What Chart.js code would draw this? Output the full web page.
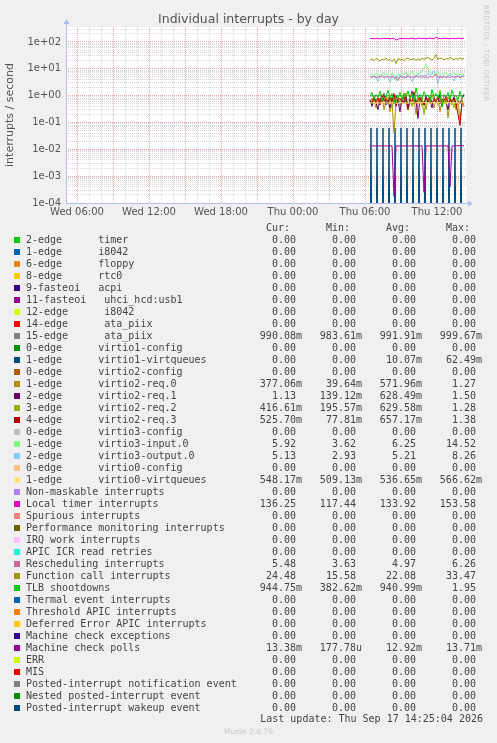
<!DOCTYPE html>
<html>
<head>
<meta charset="utf-8">
<title>Individual interrupts - by day</title>
<script src="https://cdn.jsdelivr.net/npm/chart.js@4"></script>
<style>
  html, body { margin: 0; padding: 0; background: #f0f0f0; width: 497px; height: 743px; overflow: hidden; }
  body { position: relative; font-family: "DejaVu Sans", sans-serif; }
  #chart { position: absolute; left: 0; top: 0; }
  #title { position: absolute; left: 0; width: 497px; top: 12px; line-height: 14px; text-align: center; font-size: 12.5px; color: #555; }
  #rrd { position: absolute; left: 482px; top: 5px; writing-mode: vertical-rl; font-size: 7px; color: #c8c8c8; letter-spacing: 0.3px; }
  .row { position: absolute; left: 0; width: 497px; height: 12px; line-height: 12px; font-family: "DejaVu Sans Mono", monospace; font-size: 10px; color: #444; white-space: pre; }
  .sw { position: absolute; left: 14px; top: 3px; width: 6px; height: 6px; }
  .lbl { position: absolute; left: 26px; }
  .num { position: absolute; width: 70px; text-align: right; }
  .c0 { left: 232px; } .c1 { left: 292px; } .c2 { left: 352px; } .c3 { left: 412px; }
  .h0 { left: 220px; } .h1 { left: 280px; } .h2 { left: 340px; } .h3 { left: 400px; }
  #update { position: absolute; right: 14px; top: 713px; line-height: 12px; font-family: "DejaVu Sans Mono", monospace; font-size: 10px; color: #444; white-space: pre; }
  #munin { position: absolute; left: 0; width: 497px; top: 727px; text-align: center; font-size: 7.5px; color: #c8c8c8; }
</style>
</head>
<body>
<canvas id="chart" width="497" height="230"></canvas>
<div id="title">Individual interrupts - by day</div>
<div id="rrd">RRDTOOL / TOBI OETIKER</div>
<div id="legend"></div>
<div id="update">Last update: Thu Sep 17 14:25:04 2026</div>
<div id="munin">Munin 2.0.76</div>
<script>
// hours counted from Wed 00:00
const viewStart = 5 + 5 / 60;     // Wed 05:05
const viewEnd = 38 + 25 / 60;     // Thu 14:25
const firstSample = 30 + 25 / 60; // Thu 06:25
const lastSample = 38 + 15 / 60;  // Thu 14:15

const xTickHours = [6, 12, 18, 24, 30, 36];
const xTickLabels = ['Wed 06:00', 'Wed 12:00', 'Wed 18:00', 'Thu 00:00', 'Thu 06:00', 'Thu 12:00'];
const yDecades = [-4, -3, -2, -1, 0, 1, 2];
const yTickLabels = ['1e-04', '1e-03', '1e-02', '1e-01', '1e+00', '1e+01', '1e+02'];

const rowNames = [
  '2-edge      timer',
  '1-edge      i8042',
  '6-edge      floppy',
  '8-edge      rtc0',
  '9-fasteoi   acpi',
  '11-fasteoi   uhci_hcd:usb1',
  '12-edge      i8042',
  '14-edge      ata_piix',
  '15-edge      ata_piix',
  '0-edge      virtio1-config',
  '1-edge      virtio1-virtqueues',
  '0-edge      virtio2-config',
  '1-edge      virtio2-req.0',
  '2-edge      virtio2-req.1',
  '3-edge      virtio2-req.2',
  '4-edge      virtio2-req.3',
  '0-edge      virtio3-config',
  '1-edge      virtio3-input.0',
  '2-edge      virtio3-output.0',
  '0-edge      virtio0-config',
  '1-edge      virtio0-virtqueues',
  'Non-maskable interrupts',
  'Local timer interrupts',
  'Spurious interrupts',
  'Performance monitoring interrupts',
  'IRQ work interrupts',
  'APIC ICR read retries',
  'Rescheduling interrupts',
  'Function call interrupts',
  'TLB shootdowns',
  'Thermal event interrupts',
  'Threshold APIC interrupts',
  'Deferred Error APIC interrupts',
  'Machine check exceptions',
  'Machine check polls',
  'ERR',
  'MIS',
  'Posted-interrupt notification event',
  'Nested posted-interrupt event',
  'Posted-interrupt wakeup event'
];

const colors = [
  '#00CC00', '#0066B3', '#FF8000', '#FFCC00', '#330099', '#990099', '#CCFF00', '#FF0000',
  '#808080', '#008F00', '#00487D', '#B35A00', '#B38F00', '#6B006B', '#8FB300', '#B30000',
  '#BEBEBE', '#80FF80', '#80C9FF', '#FFC080', '#FFE680', '#AA80FF', '#EE00CC', '#FF8080',
  '#666600', '#FFBFFF', '#00FFCC', '#CC6699', '#999900', '#00CC00', '#0066B3', '#FF8000',
  '#FFCC00', '#330099', '#990099', '#CCFF00', '#FF0000', '#808080', '#008F00', '#00487D'
];

const curText = ['0.00', '0.00', '0.00', '0.00', '0.00', '0.00', '0.00', '0.00', '990.08m', '0.00',
  '0.00', '0.00', '377.06m', '1.13', '416.61m', '525.70m', '0.00', '5.92', '5.13', '0.00',
  '548.17m', '0.00', '136.25', '0.00', '0.00', '0.00', '0.00', '5.48', '24.48', '944.75m',
  '0.00', '0.00', '0.00', '0.00', '13.38m', '0.00', '0.00', '0.00', '0.00', '0.00'];
const minText = ['0.00', '0.00', '0.00', '0.00', '0.00', '0.00', '0.00', '0.00', '983.61m', '0.00',
  '0.00', '0.00', '39.64m', '139.12m', '195.57m', '77.81m', '0.00', '3.62', '2.93', '0.00',
  '509.13m', '0.00', '117.44', '0.00', '0.00', '0.00', '0.00', '3.63', '15.58', '382.62m',
  '0.00', '0.00', '0.00', '0.00', '177.78u', '0.00', '0.00', '0.00', '0.00', '0.00'];
const avgText = ['0.00', '0.00', '0.00', '0.00', '0.00', '0.00', '0.00', '0.00', '991.91m', '0.00',
  '10.07m', '0.00', '571.96m', '628.49m', '629.58m', '657.17m', '0.00', '6.25', '5.21', '0.00',
  '536.65m', '0.00', '133.92', '0.00', '0.00', '0.00', '0.00', '4.97', '22.08', '940.99m',
  '0.00', '0.00', '0.00', '0.00', '12.92m', '0.00', '0.00', '0.00', '0.00', '0.00'];
const maxText = ['0.00', '0.00', '0.00', '0.00', '0.00', '0.00', '0.00', '0.00', '999.67m', '0.00',
  '62.49m', '0.00', '1.27', '1.50', '1.28', '1.38', '0.00', '14.52', '8.26', '0.00',
  '566.62m', '0.00', '153.58', '0.00', '0.00', '0.00', '0.00', '6.26', '33.47', '1.95',
  '0.00', '0.00', '0.00', '0.00', '13.71m', '0.00', '0.00', '0.00', '0.00', '0.00'];

// samples every 10 minutes, Thu 06:25 .. 14:15
const localTimer = [132.4, 135.1, 130.8, 134.2, 136.5, 128.9, 133.7, 137.2, 131.5, 135.8, 129.6, 134.3,
  138.1, 117.4, 126.8, 133.2, 136.4, 131.1, 135.6, 130.2, 134.8, 137.5, 133.1, 129.4,
  135.3, 138.6, 132.2, 136.1, 131.7, 134.5, 139.2, 133.6, 130.5, 153.6, 136.2, 134.1,
  131.3, 137.4, 133.8, 135.2, 130.9, 136.7, 134.4, 132.1, 138.3, 133.5, 135.7, 136.25];
const functionCall = [21.2, 23.4, 20.1, 24.3, 22.5, 19.2, 23.1, 21.4, 25.2, 20.3, 22.6, 18.4,
  23.5, 15.6, 24.1, 21.3, 22.8, 20.2, 23.6, 25.1, 21.5, 22.3, 24.4, 20.6,
  23.2, 21.1, 25.3, 22.4, 24.6, 26.2, 23.3, 21.2, 24.5, 33.5, 22.1, 25.4,
  23.6, 21.3, 24.2, 22.7, 26.1, 23.4, 21.5, 24.3, 22.2, 25.6, 23.1, 24.48];
const rescheduling = [5.0, 4.8, 5.3, 4.6, 5.1, 4.9, 5.4, 4.4, 5.0, 5.2, 4.7, 5.5,
  4.3, 5.0, 3.6, 5.2, 4.8, 5.1, 4.6, 5.3, 4.9, 5.0, 4.5, 5.4,
  4.8, 5.1, 5.6, 4.7, 5.0, 4.4, 5.2, 4.9, 5.3, 6.3, 4.8, 5.0,
  4.6, 5.2, 4.9, 5.1, 4.7, 5.3, 5.0, 4.8, 5.2, 4.6, 5.1, 5.48];
const virtio3Input = [5.8, 6.4, 5.5, 6.9, 6.0, 5.2, 6.6, 7.4, 5.9, 6.3, 5.6, 7.0,
  6.1, 3.6, 6.5, 5.8, 6.8, 6.2, 7.6, 5.7, 6.4, 8.2, 6.0, 5.5,
  7.1, 6.3, 8.8, 10.5, 14.5, 9.2, 7.3, 6.7, 5.9, 6.6, 7.8, 5.8,
  6.9, 6.2, 7.5, 5.6, 6.8, 6.1, 7.2, 5.9, 6.6, 6.0, 6.4, 5.92];
const virtio3Output = [5.3, 4.9, 5.6, 5.0, 3.4, 5.4, 5.1, 5.7, 4.8, 5.2, 3.1, 5.5,
  5.0, 5.3, 4.6, 5.8, 5.1, 4.2, 5.4, 5.6, 4.9, 3.3, 5.2, 5.5,
  6.2, 5.0, 4.4, 5.9, 5.3, 7.1, 5.6, 6.8, 8.3, 5.4, 2.9, 5.7,
  5.1, 5.5, 4.5, 5.3, 5.8, 5.0, 3.5, 5.4, 5.6, 5.1, 5.2, 5.13];
const ata15 = [0.990, 0.991, 0.992, 0.988, 0.990, 0.994, 0.991, 0.986, 0.990, 0.992, 0.993, 0.990,
  0.984, 0.991, 0.996, 0.990, 0.992, 0.988, 0.992, 0.991, 0.990, 0.994, 0.993, 0.990,
  0.988, 0.991, 1.000, 0.990, 0.992, 0.993, 0.986, 0.991, 0.990, 0.994, 0.992, 0.990,
  0.992, 0.988, 0.991, 0.990, 0.996, 0.992, 0.990, 0.993, 0.988, 0.992, 0.991, 0.990];
const virtio0Queues = [0.54, 0.53, 0.55, 0.52, 0.54, 0.53, 0.54, 0.56, 0.53, 0.54, 0.52, 0.55,
  0.54, 0.53, 0.51, 0.54, 0.55, 0.53, 0.54, 0.52, 0.54, 0.56, 0.53, 0.54,
  0.55, 0.53, 0.54, 0.567, 0.53, 0.54, 0.52, 0.55, 0.54, 0.53, 0.54, 0.55,
  0.52, 0.54, 0.53, 0.56, 0.54, 0.53, 0.55, 0.52, 0.54, 0.53, 0.54, 0.548];
const tlbShootdowns = [0.95, 1.3, 0.72, 1.1, 0.88, 1.45, 0.66, 1.05, 0.9, 1.6, 0.8, 1.2,
  0.55, 1.0, 0.85, 1.35, 0.7, 1.15, 0.92, 1.5, 0.78, 1.25, 0.6, 1.95,
  0.86, 1.1, 0.74, 1.4, 0.95, 1.05, 0.68, 1.7, 0.9, 1.2, 0.82, 1.55,
  0.38, 1.1, 0.88, 1.3, 0.75, 1.6, 0.93, 1.0, 0.7, 1.45, 0.85, 0.945];
const req0 = [0.6, 0.45, 0.8, 0.35, 0.7, 0.5, 1.1, 0.3, 0.65, 0.9, 0.25, 0.55,
  0.04, 0.6, 0.85, 0.4, 0.7, 0.5, 1.27, 0.3, 0.6, 0.45, 0.75, 0.2,
  0.55, 0.9, 0.4, 0.65, 0.3, 0.8, 0.5, 0.6, 0.35, 0.7, 0.95, 0.25,
  0.6, 0.5, 0.8, 0.15, 0.65, 0.45, 0.7, 0.3, 0.6, 0.12, 0.55, 0.377];
const req1 = [0.7, 0.4, 0.9, 0.55, 0.3, 0.8, 0.6, 1.2, 0.45, 0.7, 0.35, 0.85,
  0.5, 1.0, 0.6, 0.25, 0.75, 0.55, 0.9, 0.4, 0.65, 1.5, 0.5, 0.7,
  0.14, 0.8, 0.6, 0.45, 0.95, 0.55, 0.7, 0.35, 0.85, 0.6, 0.5, 1.1,
  0.4, 0.7, 0.6, 0.3, 0.8, 0.55, 0.9, 0.45, 0.65, 0.5, 0.8, 1.13];
const req2 = [0.6, 0.8, 0.5, 0.7, 0.9, 0.45, 0.75, 0.6, 1.0, 0.5, 0.7, 0.35,
  0.8, 0.6, 0.9, 0.55, 0.7, 1.28, 0.5, 0.65, 0.8, 0.4, 0.7, 0.6,
  0.9, 0.5, 0.75, 0.2, 0.65, 0.8, 0.55, 1.1, 0.6, 0.7, 0.45, 0.85,
  0.6, 0.75, 0.5, 0.9, 0.6, 0.7, 0.35, 0.8, 0.55, 0.65, 0.7, 0.417];
const req3 = [0.7, 0.55, 0.9, 0.6, 0.8, 0.45, 1.0, 0.65, 0.75, 0.5, 0.85, 0.6,
  1.2, 0.4, 0.7, 0.8, 0.55, 0.9, 0.65, 0.3, 0.75, 0.6, 1.38, 0.5,
  0.7, 0.85, 0.6, 0.45, 0.8, 0.65, 0.9, 0.55, 0.7, 0.6, 0.85, 0.5,
  0.75, 0.65, 0.9, 0.55, 0.7, 0.6, 0.8, 0.5, 0.2, 0.078, 0.6, 0.526];
const mcPolls = [0.0134, 0.0135, 0.0134, 0.0133, 0.0134, 0.0135, 0.0134, 0.0134, 0.0133, 0.0134, 0.0135, 0.0134,
  0.000178, 0.0134, 0.0133, 0.0134, 0.0135, 0.0134, 0.0134, 0.0133, 0.0134, 0.0135, 0.0134, 0.0134,
  0.0133, 0.0134, 0.0135, 0.00025, 0.0134, 0.0134, 0.0133, 0.0134, 0.0135, 0.0134, 0.0134, 0.0133,
  0.0134, 0.0135, 0.0134, 0.0134, 0.0004, 0.0133, 0.0134, 0.0134, 0.0137, 0.0137, 0.0136, 0.01338];
// samples every 5 minutes, Thu 06:25 .. 14:15 (bursts every half hour)
const virtio1Queues = [0,
  0.0625, 0, 0, 0, 0, 0, 0.0625, 0, 0, 0, 0, 0, 0.0625, 0, 0, 0, 0, 0,
  0.0625, 0, 0, 0, 0, 0, 0.0625, 0, 0, 0, 0, 0, 0.0625, 0, 0, 0, 0, 0,
  0.0625, 0, 0, 0, 0, 0, 0.0625, 0, 0, 0, 0, 0, 0.0625, 0, 0, 0, 0, 0,
  0.0625, 0, 0, 0, 0, 0, 0.0625, 0, 0, 0, 0, 0, 0.0625, 0, 0, 0, 0, 0,
  0.0625, 0, 0, 0, 0, 0, 0.0625, 0, 0, 0, 0, 0, 0.0625, 0, 0, 0, 0, 0,
  0.0625, 0, 0, 0];
// rows with nothing but 0.00 in the legend: a flat zero from first to last sample
const idle = [0, 0];

const seriesByRow = {
  8: ata15, 10: virtio1Queues, 12: req0, 13: req1, 14: req2, 15: req3,
  17: virtio3Input, 18: virtio3Output, 20: virtio0Queues, 22: localTimer,
  27: rescheduling, 28: functionCall, 29: tlbShootdowns, 34: mcPolls
};

// a log axis cannot show 0: put it far below the floor so the line drops out of the plot, as rrdtool does
const belowFloor = 1e-6;

const datasets = rowNames.map((name, i) => {
  const vals = seriesByRow[i] || idle;
  const step = (lastSample - firstSample) / (vals.length - 1);
  return {
    label: name,
    data: vals.map((v, k) => ({ x: firstSample + k * step, y: v > 0 ? v : belowFloor })),
    borderColor: colors[i],
    backgroundColor: colors[i],
    borderWidth: 1,
    pointRadius: 0,
    tension: 0,
    order: -i // rrdtool paints later rows on top
  };
});

const hourTicks = [];
for (let h = Math.ceil(viewStart); h <= viewEnd; h++) hourTicks.push(h);
const logTicks = [];
yDecades.forEach(d => { for (let m = 1; m < 10; m++) logTicks.push(m * Math.pow(10, d)); });

const isDecade = v => Math.abs(Math.log10(v) - Math.round(Math.log10(v))) < 1e-9;
const majorGrid = '#f2a3a3';
const minorGrid = '#d9d9d9';
const axisBlue = '#b4bcf0';

const plotBackground = {
  id: 'plotBackground',
  beforeDraw(chart) {
    const { ctx, chartArea: a } = chart;
    ctx.save();
    ctx.fillStyle = '#ffffff';
    ctx.fillRect(a.left, a.top, a.right - a.left, a.bottom - a.top);
    ctx.restore();
  }
};

const axisArrows = {
  id: 'axisArrows',
  afterDraw(chart) {
    const { ctx, chartArea: a } = chart;
    ctx.save();
    ctx.strokeStyle = axisBlue;
    ctx.fillStyle = axisBlue;
    ctx.lineWidth = 1;
    ctx.beginPath();
    ctx.moveTo(a.left + 0.5, a.bottom + 0.5);
    ctx.lineTo(a.left + 0.5, a.top - 4);
    ctx.moveTo(a.left, a.bottom + 0.5);
    ctx.lineTo(a.right + 3, a.bottom + 0.5);
    ctx.stroke();
    ctx.beginPath();
    ctx.moveTo(a.left - 2.5, a.top - 3);
    ctx.lineTo(a.left + 3.5, a.top - 3);
    ctx.lineTo(a.left + 0.5, a.top - 8);
    ctx.closePath();
    ctx.fill();
    ctx.beginPath();
    ctx.moveTo(a.right + 2, a.bottom - 2.5);
    ctx.lineTo(a.right + 2, a.bottom + 3.5);
    ctx.lineTo(a.right + 7, a.bottom + 0.5);
    ctx.closePath();
    ctx.fill();
    ctx.restore();
  }
};

const tickFont = { family: 'DejaVu Sans', size: 10 };

new Chart(document.getElementById('chart'), {
  type: 'line',
  data: { datasets },
  options: {
    responsive: false,
    animation: false,
    events: [],
    layout: { padding: { top: 27, right: 31, bottom: 7, left: 0 } },
    plugins: { legend: { display: false }, tooltip: { enabled: false }, title: { display: false } },
    scales: {
      x: {
        type: 'linear',
        min: viewStart,
        max: viewEnd,
        afterBuildTicks: s => { s.ticks = hourTicks.map(v => ({ value: v })); },
        afterFit: s => { s.height = 20; },
        ticks: {
          autoSkip: false, maxRotation: 0, minRotation: 0, padding: 3,
          color: '#555', font: tickFont,
          callback: v => { const k = xTickHours.indexOf(v); return k >= 0 ? xTickLabels[k] : ''; }
        },
        grid: { drawTicks: false, lineWidth: 1, color: c => (c.tick && c.tick.value % 3 === 0) ? majorGrid : minorGrid },
        border: { display: false, dash: [1, 1] }
      },
      y: {
        type: 'logarithmic',
        min: 1e-4,
        max: 360,
        afterBuildTicks: s => { s.ticks = logTicks.filter(v => v <= 360).map(v => ({ value: v })); },
        afterFit: s => { s.width = 66; },
        ticks: {
          autoSkip: false, padding: 5, color: '#555', font: tickFont,
          callback: v => { if (!isDecade(v)) return ''; const k = yDecades.indexOf(Math.round(Math.log10(v))); return yTickLabels[k]; }
        },
        title: { display: true, text: 'interrupts / second', color: '#555', font: { family: 'DejaVu Sans', size: 11 }, padding: { top: 4, bottom: 0 } },
        grid: { drawTicks: false, lineWidth: 1, color: c => (c.tick && isDecade(c.tick.value)) ? majorGrid : minorGrid },
        border: { display: false, dash: [1, 1] }
      }
    }
  },
  plugins: [plotBackground, axisArrows]
});

// legend table, munin style
const withUnit = s => /[0-9]$/.test(s) ? s + ' ' : s;
const legend = document.getElementById('legend');
const head = document.createElement('div');
head.className = 'row';
head.style.top = '222px';
head.innerHTML = ['Cur:', 'Min:', 'Avg:', 'Max:'].map((t, c) => `<span class="num h${c}">${t}</span>`).join('');
legend.appendChild(head);
rowNames.forEach((name, i) => {
  const row = document.createElement('div');
  row.className = 'row';
  row.style.top = (234 + 12 * i) + 'px';
  row.innerHTML = `<span class="sw" style="background:${colors[i]}"></span><span class="lbl">${name}</span>` +
    [curText, minText, avgText, maxText].map((col, c) => `<span class="num c${c}">${withUnit(col[i])}</span>`).join('');
  legend.appendChild(row);
});
</script>
</body>
</html>
